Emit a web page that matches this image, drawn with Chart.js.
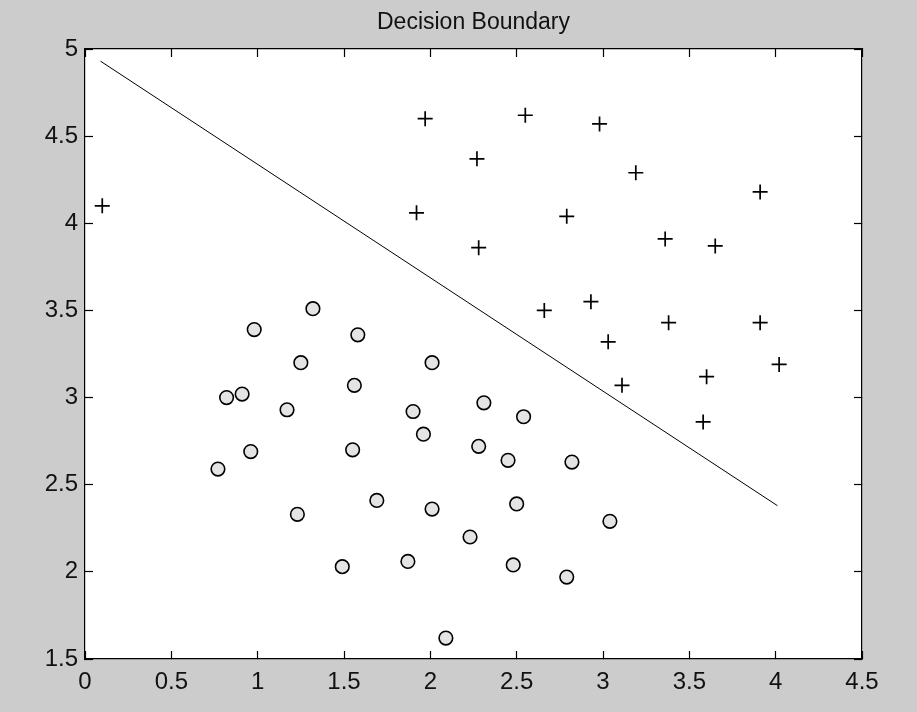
<!DOCTYPE html>
<html>
<head>
<meta charset="utf-8">
<title>Decision Boundary</title>
<script src="https://cdn.jsdelivr.net/npm/chart.js@4.4.0/dist/chart.umd.min.js"></script>
<style>
  html, body { margin: 0; padding: 0; background: #cccccc; }
  #wrap { width: 917px; height: 712px; }
</style>
</head>
<body>
<div id="wrap"><canvas id="myChart" width="917" height="712"></canvas></div>
<script>
// positive class (+)
const posX = [0.10, 1.97, 2.55, 2.98, 2.27, 3.19, 3.91, 1.92, 2.79, 2.28, 3.36,
              3.65, 2.66, 2.93, 3.38, 3.91, 3.03, 4.02, 3.60, 3.11, 3.58];
const posY = [4.10, 4.60, 4.62, 4.57, 4.37, 4.29, 4.18, 4.06, 4.04, 3.86, 3.91,
              3.87, 3.50, 3.55, 3.43, 3.43, 3.32, 3.19, 3.12, 3.07, 2.86];

// negative class (o)
const negX = [1.32, 0.98, 1.58, 1.25, 2.01, 0.82, 0.91, 1.56, 1.17, 1.90,
              1.96, 0.96, 0.77, 1.55, 1.69, 1.23, 2.01, 1.49, 1.87, 2.09,
              2.31, 2.54, 2.28, 2.45, 2.82, 2.50, 3.04, 2.23, 2.48, 2.79];
const negY = [3.51, 3.39, 3.36, 3.20, 3.20, 3.00, 3.02, 3.07, 2.93, 2.92,
              2.79, 2.69, 2.59, 2.70, 2.41, 2.33, 2.36, 2.03, 2.06, 1.62,
              2.97, 2.89, 2.72, 2.64, 2.63, 2.39, 2.29, 2.20, 2.04, 1.97];

// fitted boundary
const boundaryX = [0.09, 4.01];
const boundaryY = [4.93, 2.38];

const xTickLabels = ['0', '0.5', '1', '1.5', '2', '2.5', '3', '3.5', '4', '4.5'];
const yTickLabels = ['1.5', '2', '2.5', '3', '3.5', '4', '4.5', '5'];

const toPoints = (xs, ys) => xs.map((x, i) => ({ x: x, y: ys[i] }));

const tickFont = { family: '"Liberation Sans", Arial, sans-serif', size: 24 };

// white plot box on the grey figure
const plotBg = {
    id: 'plotBg',
    beforeDraw(chart) {
        const a = chart.chartArea;
        const ctx = chart.ctx;
        ctx.save();
        ctx.fillStyle = '#ffffff';
        ctx.fillRect(a.left, a.top, a.right - a.left, a.bottom - a.top);
        ctx.restore();
    }
};

const boxAxis = (position, labels, extra) => Object.assign({
    type: 'linear',
    position: position,
    border: { display: true, color: '#000000', width: 1.2 },
    grid: { drawOnChartArea: false, drawTicks: true, tickLength: -8, tickColor: '#000000', tickWidth: 1.2 },
    ticks: {
        stepSize: 0.5,
        color: '#111111',
        font: tickFont,
        callback: (v) => labels[labels.findIndex(l => Math.abs(parseFloat(l) - v) < 1e-6)]
    }
}, extra);

const ctx = document.getElementById('myChart').getContext('2d');
const myChart = new Chart(ctx, {
    type: 'scatter',
    data: {
        datasets: [
            {
                label: 'boundary',
                data: toPoints(boundaryX, boundaryY),
                showLine: true,
                borderColor: '#000000',
                borderWidth: 1,
                pointRadius: 0
            },
            {
                label: 'y = 1',
                data: toPoints(posX, posY),
                pointStyle: 'cross',
                pointRadius: 7.5,
                borderColor: '#000000',
                borderWidth: 1.7
            },
            {
                label: 'y = 0',
                data: toPoints(negX, negY),
                pointStyle: 'circle',
                pointRadius: 6.8,
                backgroundColor: '#e4e4e4',
                borderColor: '#000000',
                borderWidth: 1.6
            }
        ]
    },
    options: {
        responsive: false,
        animation: false,
        layout: { padding: { left: 0, right: 55, top: 0, bottom: 0 } },
        plugins: {
            legend: { display: false },
            tooltip: { enabled: false },
            title: {
                display: true,
                text: 'Decision Boundary',
                fullSize: false,
                color: '#111111',
                font: { family: '"Liberation Sans", Arial, sans-serif', size: 23, weight: 'normal', lineHeight: 1.2 },
                padding: { top: 9, bottom: 12.4 }
            }
        },
        scales: {
            x: boxAxis('bottom', xTickLabels, {
                min: 0, max: 4.5,
                afterFit: (s) => { s.height = 53; }
            }),
            y: boxAxis('left', yTickLabels, {
                min: 1.5, max: 5,
                afterFit: (s) => { s.width = 85; }
            }),
            x2: boxAxis('top', xTickLabels, {
                min: 0, max: 4.5,
                afterFit: (s) => { s.height = 0; }
            }),
            y2: boxAxis('right', yTickLabels, {
                min: 1.5, max: 5,
                afterFit: (s) => { s.width = 0; }
            })
        }
    },
    plugins: [plotBg]
});

// label gaps (tick marks point inward, so padding includes their length)
myChart.options.scales.x.ticks.padding = 17;
myChart.options.scales.y.ticks.padding = 15;
myChart.options.scales.x2.ticks.display = false;
myChart.options.scales.y2.ticks.display = false;
myChart.update();
</script>
</body>
</html>
